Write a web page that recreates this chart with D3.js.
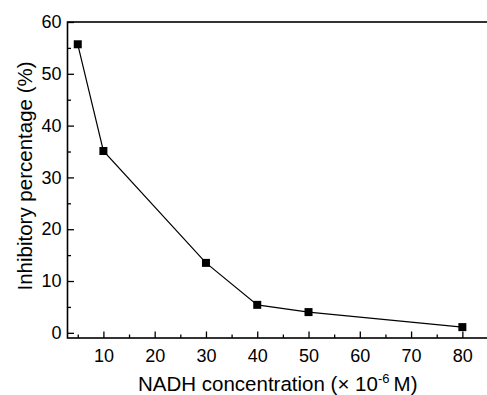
<!DOCTYPE html>
<html>
<head>
<meta charset="utf-8">
<script src="https://cdn.jsdelivr.net/npm/d3@7"></script>
<style>
  body { margin: 0; background: #fff; }
  svg { display: block; font-family: "Liberation Sans", Arial, sans-serif; }
  .axis path.domain { display: none; }
  .axis line { stroke: #000; stroke-width: 1.3; }
  .axis text { font-size: 18px; fill: #000; }
</style>
</head>
<body>
<svg width="487" height="395"></svg>
<script>
// NADH concentration (x 10^-6 M) and inhibitory percentage (%)
const concentration = [5, 10, 30, 40, 50, 80];
const inhibition = [55.7, 35.1, 13.5, 5.4, 4.0, 1.1];
const xTicks = [10, 20, 30, 40, 50, 60, 70, 80];
const xMinor = [5, 15, 25, 35, 45, 55, 65, 75, 85];
const yTicks = [0, 10, 20, 30, 40, 50, 60];
const yMinor = [5, 15, 25, 35, 45, 55];

const svg = d3.select('svg');
const plot = {left: 67.5, right: 488, top: 22, bottom: 338};

const x = d3.scaleLinear().domain([3, 85]).range([plot.left, plot.right]);
const y = d3.scaleLinear().domain([-1, 60]).range([plot.bottom, plot.top]);

// x axis, ticks pointing inward
svg.append('g')
  .attr('class', 'axis')
  .attr('transform', `translate(0, ${plot.bottom})`)
  .call(d3.axisBottom(x).tickValues(xTicks).tickSize(-6.5).tickSizeOuter(0).tickPadding(11));
svg.append('g')
  .attr('class', 'axis')
  .attr('transform', `translate(0, ${plot.bottom})`)
  .call(d3.axisBottom(x).tickValues(xMinor).tickSize(-3.5).tickSizeOuter(0).tickFormat(''));

// y axis
svg.append('g')
  .attr('class', 'axis')
  .attr('transform', `translate(${plot.left}, 0)`)
  .call(d3.axisLeft(y).tickValues(yTicks).tickSize(-6.5).tickSizeOuter(0).tickPadding(6));
svg.append('g')
  .attr('class', 'axis')
  .attr('transform', `translate(${plot.left}, 0)`)
  .call(d3.axisLeft(y).tickValues(yMinor).tickSize(-3.5).tickSizeOuter(0).tickFormat(''));

// frame
svg.append('rect')
  .attr('x', plot.left)
  .attr('y', plot.top)
  .attr('width', plot.right - plot.left)
  .attr('height', plot.bottom - plot.top)
  .attr('fill', 'none')
  .attr('stroke', '#000')
  .attr('stroke-width', 1.6);

// data line
const line = d3.line()
  .x((d, i) => x(concentration[i]))
  .y(d => y(d));

svg.append('path')
  .datum(inhibition)
  .attr('fill', 'none')
  .attr('stroke', '#000')
  .attr('stroke-width', 1.2)
  .attr('d', line);

svg.append('g')
  .selectAll('rect')
  .data(inhibition)
  .join('rect')
  .attr('x', (d, i) => x(concentration[i]) - 4)
  .attr('y', d => y(d) - 4)
  .attr('width', 8)
  .attr('height', 8)
  .attr('fill', '#000');

// axis titles
const xTitle = svg.append('text')
  .attr('x', (plot.left + plot.right) / 2)
  .attr('y', 391)
  .attr('text-anchor', 'middle')
  .attr('font-size', 20.5);
xTitle.append('tspan').text('NADH concentration (\u00d7 10');
xTitle.append('tspan').attr('dy', -8).attr('font-size', 13).text('-6');
xTitle.append('tspan').attr('dy', 8).text('\u2009M)');

svg.append('text')
  .attr('transform', 'translate(32, 176) rotate(-90)')
  .attr('text-anchor', 'middle')
  .attr('font-size', 20.5)
  .text('Inhibitory percentage (%)');
</script>
</body>
</html>
